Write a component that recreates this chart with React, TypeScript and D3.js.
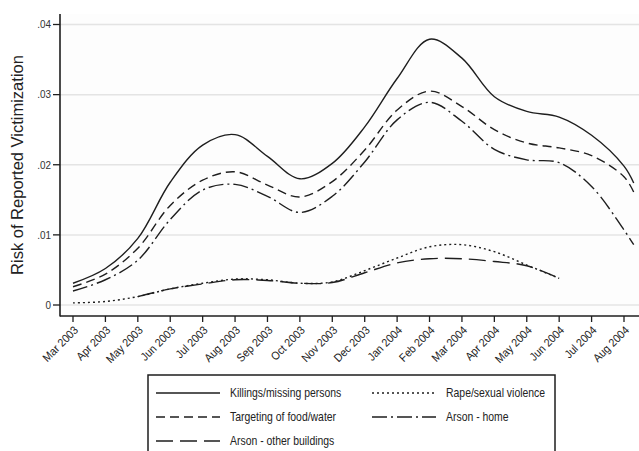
import React from "react";
import * as d3 from "d3";

// Month ticks along the x axis
const months = [
  "Mar 2003", "Apr 2003", "May 2003", "Jun 2003", "Jul 2003", "Aug 2003",
  "Sep 2003", "Oct 2003", "Nov 2003", "Dec 2003", "Jan 2004", "Feb 2004",
  "Mar 2004", "Apr 2004", "May 2004", "Jun 2004", "Jul 2004", "Aug 2004",
];

const yTicks = [0, 0.01, 0.02, 0.03, 0.04];
const yTickLabels = ["0", ".01", ".02", ".03", ".04"];

// Month positions (0 = Mar 2003) at which each series is sampled
const fullPos = [0, 1, 2, 3, 4, 5, 6, 7, 8, 9, 10, 11, 12, 13, 14, 15, 16, 17, 17.3];
const rapePos = [0, 1, 2, 3, 4, 5, 6, 7, 8, 9, 10, 11, 12, 13, 14, 15];
const otherPos = [2, 3, 4, 5, 6, 7, 8, 9, 10, 11, 12, 13, 14, 15];

const killings = [0.0031, 0.0052, 0.0095, 0.0175, 0.0228, 0.0243, 0.0212, 0.0180, 0.0202, 0.0254, 0.0323, 0.0379, 0.0352, 0.0297, 0.0276, 0.0268, 0.0242, 0.0198, 0.0174];
const food = [0.0026, 0.0044, 0.0081, 0.0142, 0.0178, 0.0190, 0.0171, 0.0154, 0.0176, 0.0221, 0.0278, 0.0305, 0.0283, 0.0250, 0.0231, 0.0224, 0.0213, 0.0183, 0.0161];
const arsonHome = [0.0020, 0.0036, 0.0064, 0.0122, 0.0164, 0.0172, 0.0155, 0.0132, 0.0155, 0.0204, 0.0264, 0.0289, 0.0262, 0.0222, 0.0207, 0.0203, 0.0169, 0.0107, 0.0086];
const rape = [0.0003, 0.0005, 0.0012, 0.0023, 0.0031, 0.0037, 0.0036, 0.0031, 0.0033, 0.0049, 0.0067, 0.0083, 0.0086, 0.0076, 0.0057, 0.0038];
const arsonOther = [0.0012, 0.0023, 0.0030, 0.0036, 0.0035, 0.0031, 0.0032, 0.0046, 0.0060, 0.0066, 0.0066, 0.0062, 0.0056, 0.0038];

const seriesNames = [
  "Killings/missing persons",
  "Targeting of food/water",
  "Arson - other buildings",
  "Rape/sexual violence",
  "Arson - home",
];

const W = 639;
const H = 451;
const INK = "#1e1e1e";

export default function App() {
  const x = d3.scaleLinear().domain([0, 17]).range([73, 624]);
  const y = d3.scaleLinear().domain([0, 0.04]).range([305, 24.5]);
  const line = d3
    .line<[number, number]>()
    .x((d) => x(d[0]))
    .y((d) => y(d[1]))
    .curve(d3.curveCatmullRom.alpha(0.5));

  const zip = (pos: number[], vals: number[]) =>
    pos.map((p, i) => [p, vals[i]] as [number, number]);

  const series = [
    { name: seriesNames[0], pts: zip(fullPos, killings), dash: "none" },
    { name: seriesNames[1], pts: zip(fullPos, food), dash: "9,5" },
    { name: seriesNames[2], pts: zip(otherPos, arsonOther), dash: "17,7" },
    { name: seriesNames[3], pts: zip(rapePos, rape), dash: "2,3" },
    { name: seriesNames[4], pts: zip(fullPos, arsonHome), dash: "15,4,2,4" },
  ];

  const axisY = 316;
  const axisX = 60;

  // legend layout: two columns, three rows
  const legendItems = [
    { s: series[0], col: 0, row: 0 },
    { s: series[3], col: 1, row: 0 },
    { s: series[1], col: 0, row: 1 },
    { s: series[4], col: 1, row: 1 },
    { s: series[2], col: 0, row: 2 },
  ];
  const colX = [156, 372];
  const rowY = [393, 417, 441];

  return (
    <svg
      width={W}
      height={H}
      style={{ position: "absolute", left: 0, top: 0, background: "#fff" }}
      fontFamily="Arial, 'Liberation Sans', sans-serif"
    >
      <rect x={0} y={0} width={W} height={H} fill="#fff" />
      <rect x={axisX} y={14} width={W - axisX} height={axisY - 14} fill="#fdfdfd" />

      {/* horizontal grid */}
      {yTicks.map((t) => (
        <line key={"g" + t} x1={axisX} x2={W} y1={y(t)} y2={y(t)} stroke="#e4e4e4" strokeWidth={1.5} />
      ))}

      {/* series */}
      {series.map((s) => (
        <path
          key={s.name}
          d={line(s.pts) || ""}
          fill="none"
          stroke={INK}
          strokeWidth={1.4}
          strokeDasharray={s.dash}
        />
      ))}

      {/* y axis */}
      <line x1={axisX} x2={axisX} y1={14} y2={axisY + 0.5} stroke={INK} strokeWidth={1.6} />
      {yTicks.map((t, i) => (
        <g key={"y" + t}>
          <line x1={axisX - 7} x2={axisX} y1={y(t)} y2={y(t)} stroke={INK} strokeWidth={1.3} />
          <text
            transform={`translate(51,${y(t)}) scale(0.9,1)`}
            dy="0.35em"
            textAnchor="end"
            fontSize={11}
            fill="#333"
          >
            {yTickLabels[i]}
          </text>
        </g>
      ))}
      <text
        transform={`translate(17,165) rotate(-90)`}
        textAnchor="middle"
        dominantBaseline="central"
        fontSize={16.5}
        fill="#222"
      >
        Risk of Reported Victimization
      </text>

      {/* x axis */}
      <line x1={axisX} x2={W} y1={axisY} y2={axisY} stroke={INK} strokeWidth={1.6} />
      {months.map((m, i) => (
        <g key={m}>
          <line x1={x(i)} x2={x(i)} y1={axisY} y2={axisY + 6} stroke={INK} strokeWidth={1.3} />
          <text
            transform={`translate(${x(i) + 3},${axisY + 12}) rotate(-45) scale(0.92,1)`}
            textAnchor="end"
            dy="0.35em"
            fontSize={11.5}
            fill="#222"
          >
            {m}
          </text>
        </g>
      ))}

      {/* legend */}
      <rect x={148} y={375} width={407} height={100} fill="#fff" stroke={INK} strokeWidth={1.5} />
      {legendItems.map(({ s, col, row }) => (
        <g key={"l" + s.name}>
          <line
            x1={colX[col]}
            x2={colX[col] + 64}
            y1={rowY[row]}
            y2={rowY[row]}
            stroke={INK}
            strokeWidth={1.5}
            strokeDasharray={s.dash}
          />
          <text
            transform={`translate(${colX[col] + 74},${rowY[row]}) scale(0.87,1)`}
            dy="0.35em"
            fontSize={12}
            fill="#222"
          >
            {s.name}
          </text>
        </g>
      ))}
    </svg>
  );
}
